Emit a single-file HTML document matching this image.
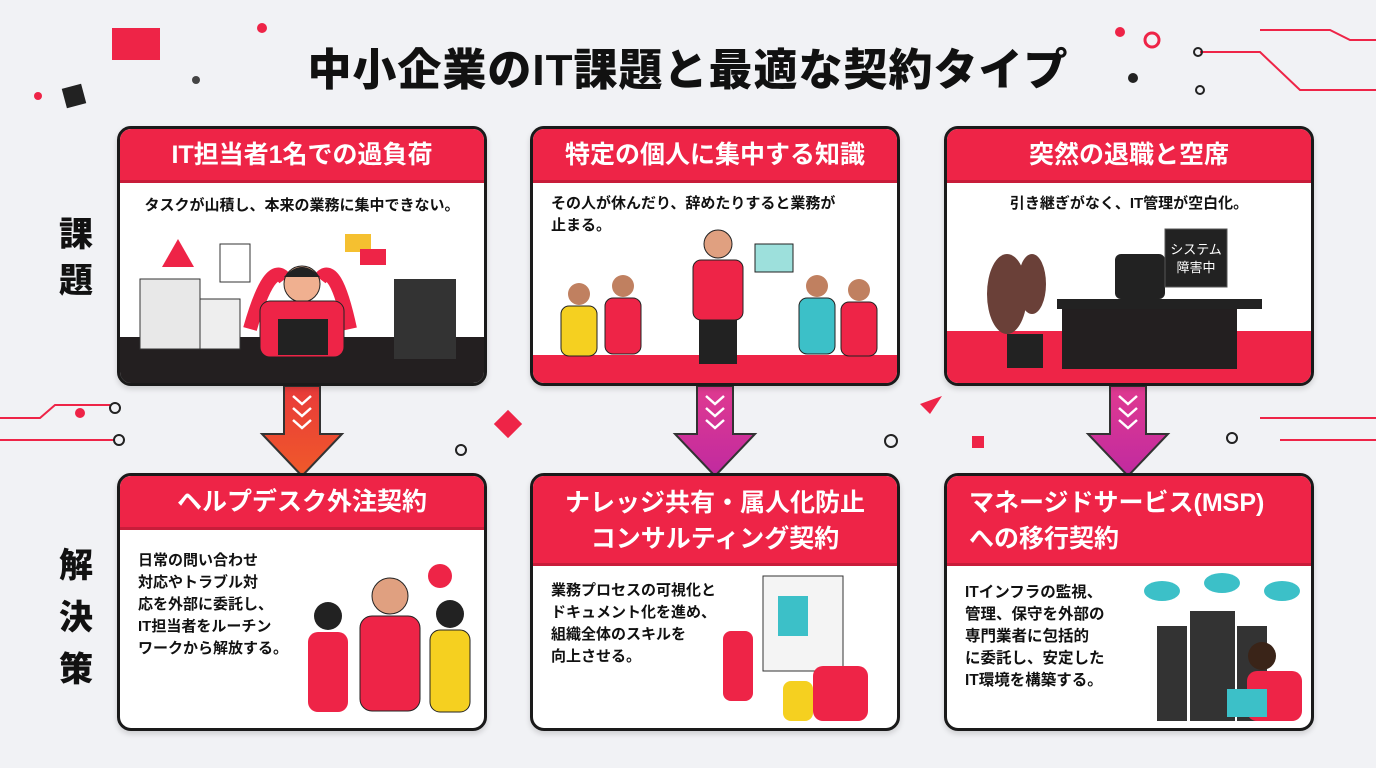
<!DOCTYPE html>
<html><head><meta charset="utf-8">
<style>
*{margin:0;padding:0;box-sizing:border-box}
body{width:1376px;height:768px;background:#f1f2f5;font-family:"Liberation Sans","Noto Sans CJK JP",sans-serif;position:relative;overflow:hidden;color:#111}
.t{position:absolute;left:0;width:1376px;top:34px;text-align:center;font-size:44px;font-weight:900;letter-spacing:1px}
.card{position:absolute;width:370px;background:#fff;border:3px solid #1a1a1a;border-radius:14px;overflow:hidden;box-shadow:0 3px 6px rgba(0,0,0,.15)}
.hd{background:#ee2447;color:#fff;font-weight:700;font-size:25px;text-align:center;border-bottom:3px solid #c81d3a}
.sub{font-size:15px;font-weight:700;padding:0 18px;line-height:22px}
.side{position:absolute;font-size:34px;font-weight:900;line-height:46px;width:40px;text-align:center}
.band{position:absolute;left:0;right:0;bottom:0}
</style></head><body>
<div class="t">中小企業のIT課題と最適な契約タイプ</div>
<div class="side" style="left:56px;top:212px">課<br>題</div>
<div class="side" style="left:56px;top:540px;line-height:52px">解<br>決<br>策</div>

<svg width="1376" height="768" style="position:absolute;left:0;top:0">
<rect x="112" y="28" width="48" height="32" fill="#ee2447"/>
<rect x="64" y="86" width="20" height="20" fill="#222" transform="rotate(-15 74 96)"/>
<circle cx="38" cy="96" r="4" fill="#ee2447"/><circle cx="262" cy="28" r="5" fill="#ee2447"/>
<circle cx="196" cy="80" r="4" fill="#444"/><circle cx="1120" cy="32" r="5" fill="#ee2447"/>
<circle cx="1133" cy="78" r="5" fill="#222"/><circle cx="1152" cy="40" r="7" fill="none" stroke="#ee2447" stroke-width="3"/>
<path d="M1200 52 H1260 L1300 90 H1376 M1260 30 H1330 L1350 40 H1376" fill="none" stroke="#ee2447" stroke-width="2"/>
<circle cx="1198" cy="52" r="4" fill="none" stroke="#222" stroke-width="2"/><circle cx="1200" cy="90" r="4" fill="none" stroke="#222" stroke-width="2"/>
<path d="M0 418 H40 L55 405 H110 M0 440 H115" fill="none" stroke="#ee2447" stroke-width="2"/>
<circle cx="80" cy="413" r="5" fill="#ee2447"/><circle cx="115" cy="408" r="5" fill="none" stroke="#222" stroke-width="2"/><circle cx="119" cy="440" r="5" fill="none" stroke="#222" stroke-width="2"/>
<path d="M1260 418 H1376 M1280 440 H1376" stroke="#ee2447" stroke-width="2"/>
<circle cx="1232" cy="438" r="5" fill="none" stroke="#222" stroke-width="2"/>
<rect x="498" y="414" width="20" height="20" fill="#ee2447" transform="rotate(45 508 424)"/>
<circle cx="461" cy="450" r="5" fill="none" stroke="#222" stroke-width="2"/><circle cx="891" cy="441" r="6" fill="none" stroke="#222" stroke-width="2"/>
<path d="M920 404 L942 396 L930 414Z" fill="#ee2447"/><rect x="972" y="436" width="12" height="12" fill="#ee2447"/>
<defs><linearGradient id="g1" x1="0" y1="0" x2="0" y2="1"><stop offset="0" stop-color="#e83a3a"/><stop offset="1" stop-color="#f05a2a"/></linearGradient>
<linearGradient id="g2" x1="0" y1="0" x2="0" y2="1"><stop offset="0" stop-color="#e03a90"/><stop offset="1" stop-color="#c02aa0"/></linearGradient></defs>
<path d="M284 386 H320 V434 H342 L302 476 L262 434 H284Z" fill="url(#g1)" stroke="#333" stroke-width="2"/>
<path d="M293 396 l9 8 9-8 M293 408 l9 8 9-8 M293 420 l9 8 9-8" fill="none" stroke="#fff" stroke-width="2.5"/>
<path d="M697 386 H733 V434 H755 L715 476 L675 434 H697Z" fill="url(#g2)" stroke="#333" stroke-width="2"/>
<path d="M706 396 l9 8 9-8 M706 408 l9 8 9-8 M706 420 l9 8 9-8" fill="none" stroke="#fff" stroke-width="2.5"/>
<path d="M1110 386 H1146 V434 H1168 L1128 476 L1088 434 H1110Z" fill="url(#g2)" stroke="#333" stroke-width="2"/>
<path d="M1119 396 l9 8 9-8 M1119 408 l9 8 9-8 M1119 420 l9 8 9-8" fill="none" stroke="#fff" stroke-width="2.5"/>
</svg>

<div class="card" style="left:117px;top:126px;height:260px">
 <div class="hd" style="height:54px;line-height:52px">IT担当者1名での過負荷</div>
 <div class="sub" style="text-align:center;margin-top:12px">タスクが山積し、本来の業務に集中できない。</div>
 <div class="band" style="height:46px;background:#231f20"></div>
 <svg style="position:absolute;left:0;top:90px" width="370" height="170">
  <rect x="20" y="60" width="60" height="70" fill="#e8e8e8" stroke="#333"/><rect x="80" y="80" width="40" height="50" fill="#eee" stroke="#333"/>
  <path d="M58 20 L74 48 H42Z" fill="#ee2447"/>
  <rect x="100" y="25" width="30" height="38" fill="#fff" stroke="#333"/>
  <path d="M130 110 Q150 40 165 60 M230 110 Q215 40 200 60" stroke="#ee2447" stroke-width="14" fill="none"/>
  <circle cx="182" cy="65" r="18" fill="#f0b090" stroke="#222"/><path d="M164 58 Q182 38 200 58" fill="#222"/>
  <rect x="140" y="82" width="84" height="56" rx="10" fill="#ee2447" stroke="#222"/>
  <rect x="158" y="100" width="50" height="36" fill="#222"/>
  <rect x="225" y="15" width="26" height="18" fill="#f5c030"/><rect x="240" y="30" width="26" height="16" fill="#ee2447"/>
  <rect x="274" y="60" width="62" height="80" fill="#333"/>
 </svg>
</div>
<div class="card" style="left:530px;top:126px;height:260px">
 <div class="hd" style="height:54px;line-height:52px">特定の個人に集中する知識</div>
 <div class="sub" style="margin-top:10px">その人が休んだり、辞めたりすると業務が<br>止まる。</div>
 <div class="band" style="height:28px;background:#ee2447"></div>
 <svg style="position:absolute;left:0;top:95px" width="370" height="140">
  <circle cx="185" cy="20" r="14" fill="#e0a080" stroke="#222"/><rect x="160" y="36" width="50" height="60" rx="8" fill="#ee2447" stroke="#222"/>
  <rect x="166" y="96" width="38" height="44" fill="#222"/>
  <rect x="222" y="20" width="38" height="28" fill="#9de0dc" stroke="#222"/>
  <circle cx="46" cy="70" r="11" fill="#c08060"/><rect x="28" y="82" width="36" height="50" rx="8" fill="#f5d020" stroke="#222"/>
  <circle cx="90" cy="62" r="11" fill="#c08060"/><rect x="72" y="74" width="36" height="56" rx="8" fill="#ee2447" stroke="#222"/>
  <circle cx="284" cy="62" r="11" fill="#c08060"/><rect x="266" y="74" width="36" height="56" rx="8" fill="#3cc0c8" stroke="#222"/>
  <circle cx="326" cy="66" r="11" fill="#c08060"/><rect x="308" y="78" width="36" height="54" rx="8" fill="#ee2447" stroke="#222"/>
 </svg>
</div>
<div class="card" style="left:944px;top:126px;height:260px">
 <div class="hd" style="height:54px;line-height:52px">突然の退職と空席</div>
 <div class="sub" style="text-align:center;margin-top:10px">引き継ぎがなく、IT管理が空白化。</div>
 <div class="band" style="height:52px;background:#ee2447"></div>
 <svg style="position:absolute;left:0;top:95px" width="370" height="165">
  <rect x="110" y="75" width="205" height="10" fill="#222"/><rect x="115" y="85" width="175" height="60" fill="#231f20"/>
  <rect x="168" y="30" width="50" height="45" rx="6" fill="#222"/>
  <rect x="218" y="5" width="62" height="58" fill="#222" stroke="#555"/>
  <text x="249" y="30" fill="#fff" font-size="13" text-anchor="middle">システム</text>
  <text x="249" y="48" fill="#fff" font-size="13" text-anchor="middle">障害中</text>
  <ellipse cx="60" cy="70" rx="20" ry="40" fill="#6a4038"/><ellipse cx="85" cy="60" rx="14" ry="30" fill="#6a4038"/>
  <rect x="60" y="110" width="36" height="34" fill="#222"/>
 </svg>
</div>

<div class="card" style="left:117px;top:473px;height:258px">
 <div class="hd" style="height:54px;line-height:52px">ヘルプデスク外注契約</div>
 <div class="sub" style="margin-top:20px;font-size:15px">日常の問い合わせ<br>対応やトラブル対<br>応を外部に委託し、<br>IT担当者をルーチン<br>ワークから解放する。</div>
 <svg style="position:absolute;left:170px;top:80px" width="200" height="175">
  <circle cx="38" cy="60" r="14" fill="#222"/><rect x="18" y="76" width="40" height="80" rx="10" fill="#ee2447"/>
  <circle cx="100" cy="40" r="18" fill="#e0a080" stroke="#222"/><rect x="70" y="60" width="60" height="95" rx="12" fill="#ee2447" stroke="#222"/>
  <circle cx="160" cy="58" r="14" fill="#222"/><rect x="140" y="74" width="40" height="82" rx="10" fill="#f5d020" stroke="#222"/>
  <circle cx="150" cy="20" r="12" fill="#ee2447"/>
 </svg>
</div>
<div class="card" style="left:530px;top:473px;height:258px">
 <div class="hd" style="height:90px;line-height:36px;padding-top:9px">ナレッジ共有・属人化防止<br>コンサルティング契約</div>
 <div class="sub" style="margin-top:14px">業務プロセスの可視化と<br>ドキュメント化を進め、<br>組織全体のスキルを<br>向上させる。</div>
 <svg style="position:absolute;left:170px;top:95px" width="200" height="160">
  <rect x="60" y="5" width="80" height="95" fill="#f4f4f4" stroke="#333"/><rect x="75" y="25" width="30" height="40" fill="#3cc0c8"/>
  <rect x="20" y="60" width="30" height="70" rx="8" fill="#ee2447"/><rect x="110" y="95" width="55" height="55" rx="10" fill="#ee2447"/>
  <rect x="80" y="110" width="30" height="40" rx="8" fill="#f5d020"/>
 </svg>
</div>
<div class="card" style="left:944px;top:473px;height:258px">
 <div class="hd" style="height:90px;line-height:36px;padding-top:9px;text-align:left;padding-left:22px">マネージドサービス(MSP)<br>への移行契約</div>
 <div class="sub" style="margin-top:16px;font-size:15.5px">ITインフラの監視、<br>管理、保守を外部の<br>専門業者に包括的<br>に委託し、安定した<br>IT環境を構築する。</div>
 <svg style="position:absolute;left:185px;top:95px" width="185" height="160">
  <ellipse cx="30" cy="20" rx="18" ry="10" fill="#3cc0c8"/><ellipse cx="90" cy="12" rx="18" ry="10" fill="#3cc0c8"/><ellipse cx="150" cy="20" rx="18" ry="10" fill="#3cc0c8"/>
  <rect x="25" y="55" width="30" height="95" fill="#333"/><rect x="58" y="40" width="45" height="110" fill="#333"/><rect x="105" y="55" width="30" height="95" fill="#333"/>
  <circle cx="130" cy="85" r="14" fill="#3a2418"/><rect x="115" y="100" width="55" height="50" rx="10" fill="#ee2447"/>
  <rect x="95" y="118" width="40" height="28" fill="#3cc0c8"/>
 </svg>
</div>
</body></html>
